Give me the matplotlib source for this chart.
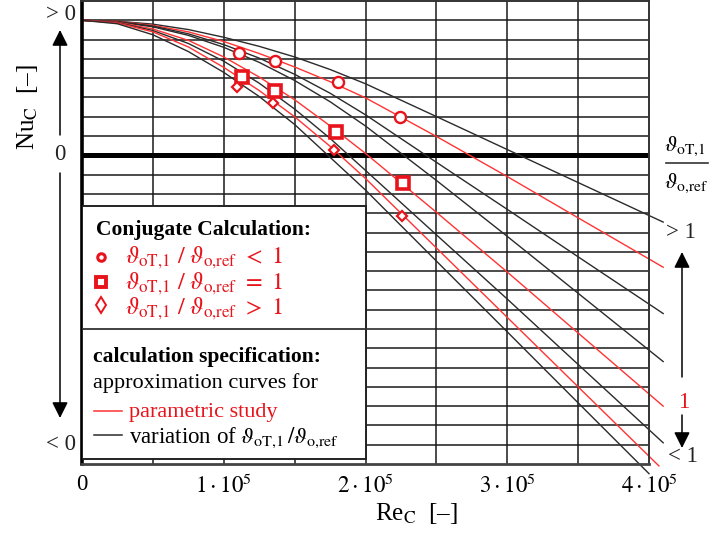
import matplotlib
matplotlib.use("Agg")
import matplotlib.pyplot as plt
import numpy as np
from matplotlib.lines import Line2D
from matplotlib.patches import Rectangle

plt.rcParams["font.family"] = ["Liberation Serif", "DejaVu Serif"]
plt.rcParams["mathtext.fontset"] = "stix"

# Re_C positions where the approximation curves were read off
re_pts = [0, 25000, 50000, 75000, 100000, 125000, 150000, 175000, 200000, 250000, 300000, 350000]
# where each curve stops (top to bottom)
re_end = [410000, 410000, 410000, 410000, 410000, 410000, 407000, 400000]

# Nu_C in schematic units (grid steps), top curve first, last value at the curve end
nu_black_1 = [7, 6.95, 6.80, 6.52, 6.12, 5.65, 5.10, 4.45, 3.71, 2.01, 0.30, -1.41, -3.46]
nu_red_1 = [7, 6.94, 6.74, 6.40, 5.90, 5.28, 4.58, 3.82, 2.98, 0.98, -1.10, -3.24, -5.80]
nu_black_2 = [7, 6.93, 6.70, 6.30, 5.74, 5.04, 4.20, 3.22, 2.10, -0.36, -2.80, -5.26, -8.20]
nu_black_3 = [7, 6.92, 6.66, 6.22, 5.60, 4.82, 3.88, 2.78, 1.52, -1.30, -4.20, -7.15, -10.69]
nu_red_2 = [7, 6.90, 6.55, 5.96, 5.10, 4.06, 2.88, 1.53, 0.10, -2.95, -6.05, -9.21, -13.00]
nu_black_4 = [7, 6.88, 6.47, 5.80, 4.88, 3.74, 2.40, 0.88, -0.78, -4.12, -7.45, -10.84, -14.90]
nu_red_3 = [7, 6.86, 6.40, 5.62, 4.56, 3.36, 2.00, 0.47, -1.20, -4.80, -8.40, -12.00, -16.10]
nu_black_5 = [7, 6.82, 6.25, 5.38, 4.30, 3.05, 1.60, -0.10, -1.80, -5.48, -9.15, -12.83, -16.50]

# conjugate calculation results
re_circle = [110800, 136200, 180600, 224300]
nu_circle = [5.30, 4.89, 3.80, 1.99]
re_square = [112900, 136200, 179200, 226500]
nu_square = [4.06, 3.33, 1.21, -1.43]
re_diamond = [109300, 134700, 177800, 225700]
nu_diamond = [3.54, 2.71, 0.28, -3.15]

xtick_pos = [0, 100000, 200000, 300000, 400000]
xtick_lab = ["0", r"$1\cdot10^5$", r"$2\cdot10^5$", r"$3\cdot10^5$", r"$4\cdot10^5$"]

RED = "#e8141c"
LRED = "#ff3333"
DARK = "#2b2b2b"
W, H = 711, 537

TH_T = r"\vartheta_{\rm oT{,}1}"
TH_R = r"\vartheta_{\rm o{,}ref}"


def fxy(px, py):
    return px / W, 1 - py / H


fig = plt.figure(figsize=(7.11, 5.37), dpi=100)
ax = fig.add_axes([82 / W, 1 - 464 / H, (649 - 82) / W, 463 / H])
ax.set_xlim(0, 400000)
ax.set_ylim(-16, 8)

for v in np.arange(50000, 400000, 50000):
    ax.axvline(v, color="#1a1a1a", lw=1.1, zorder=1)
for h in range(-15, 8):
    ax.axhline(h, color="#1a1a1a", lw=1.1, zorder=1)
ax.axhline(0, color="black", lw=3.6, zorder=1.5)

curves = [nu_black_1, nu_red_1, nu_black_2, nu_black_3, nu_red_2, nu_black_4, nu_red_3, nu_black_5]
colors = [DARK, LRED, DARK, DARK, LRED, DARK, LRED, DARK]
for nu, end, c in zip(curves, re_end, colors):
    ax.plot(re_pts + [end], nu, color=c, lw=1.0, zorder=2, clip_on=False)

ax.plot(re_circle, nu_circle, "o", ms=8.0, mew=1.7, mec=RED, mfc="white", ls="none", zorder=4)
ax.plot(re_square, nu_square, "s", ms=8.4, mew=2.6, mec=RED, mfc="white", ls="none", zorder=4)
ax.plot(re_diamond, nu_diamond, "D", ms=5.6, mew=1.6, mec=RED, mfc="white", ls="none", zorder=4)

# legend box drawn over the lower left part of the grid
ax.add_patch(Rectangle((0, -15.74), 200000, 13.11, fc="white", ec="#222222", lw=1.4, zorder=3))
ax.plot([0, 200000], [-9.0, -9.0], color="#333333", lw=1.3, zorder=3.1)

ax.set_xticks(xtick_pos)
ax.set_xticklabels(xtick_lab, fontsize=16.5)
ax.set_yticks([])
ax.tick_params(axis="x", length=0, pad=7)
ax.spines["left"].set_linewidth(2.6)
ax.spines["left"].set_color("black")
ax.spines["bottom"].set_linewidth(2.0)
ax.spines["bottom"].set_color("#444444")
for s in ("top", "right"):
    ax.spines[s].set_linewidth(1.4)
    ax.spines[s].set_color("#333333")

# legend content
fig.text(*fxy(96, 235), "Conjugate Calculation:", fontsize=15.5, fontweight="bold", va="baseline")
rows = [("o", 5.4, 2.2, 257, 263, "<"), ("s", 7.2, 2.8, 282, 289, "="), ("d", 8.2, 1.4, 305, 314, ">")]
for mk, ms, mew, my, base, sign in rows:
    fig.add_artist(Line2D([101 / W], [1 - my / H], marker=mk, ms=ms, mew=mew, mec=RED, mfc="white",
                          ls="none", transform=fig.transFigure))
    fig.text(*fxy(125, base), "$" + TH_T + r"\ /\ " + TH_R + r"\ " + sign + r"\ 1$",
             fontsize=17.5, color=RED, va="baseline")

fig.text(*fxy(93, 362), "calculation specification:", fontsize=15.5, fontweight="bold", va="baseline")
fig.text(*fxy(93, 388), "approximation curves for", fontsize=16, va="baseline")
fig.add_artist(Line2D([94 / W, 122 / W], [1 - 411 / H] * 2, color=LRED, lw=1.1, transform=fig.transFigure))
fig.text(*fxy(129, 417), "parametric study", fontsize=16, color=RED, va="baseline")
fig.add_artist(Line2D([94 / W, 122 / W], [1 - 435 / H] * 2, color=DARK, lw=1.1, transform=fig.transFigure))
fig.text(*fxy(129, 443), "variation of $" + TH_T + r"\,/" + TH_R + "$", fontsize=16.5, va="baseline")

# left side: sign of Nu_C
fig.text(*fxy(28, 107), r"Nu$_{\rm C}$  [–]", fontsize=18, rotation=90, ha="center", va="center")
fig.text(*fxy(76, 15), "> 0", fontsize=16.5, ha="right", va="center", color="#222222")
fig.text(*fxy(60, 155), "0", fontsize=16.5, ha="center", va="center", color="#222222")
fig.text(*fxy(76, 445), "< 0", fontsize=16.5, ha="right", va="center", color="#222222")

arrow = dict(arrowstyle="-|>,head_length=0.6,head_width=0.3", color="black", lw=1.1,
             mutation_scale=16, shrinkA=0, shrinkB=0)
for start, tip in [((60, 135), (60, 30)), ((60, 173), (60, 418)),
                   ((682, 377), (682, 252)), ((682, 415), (682, 448))]:
    ax.annotate("", xy=fxy(*tip), xytext=fxy(*start), xycoords="figure fraction",
                textcoords="figure fraction", arrowprops=arrow, annotation_clip=False)

# right side: temperature ratio
fig.text(*fxy(664, 146), "$" + TH_T + "$", fontsize=16, va="center")
fig.add_artist(Line2D([666 / W, 708 / W], [1 - 163 / H] * 2, color="#333333", lw=1.2,
                      transform=fig.transFigure))
fig.text(*fxy(664, 183), "$" + TH_R + "$", fontsize=16, va="center")
fig.text(*fxy(666, 233), "> 1", fontsize=16.5, va="center", color="#222222")
fig.text(*fxy(684, 403), "1", fontsize=16.5, ha="center", va="center", color=RED)
fig.text(*fxy(668, 457), "< 1", fontsize=16.5, va="center", color="#222222")

fig.text(*fxy(375, 513), r"Re$_{\rm C}$  [–]", fontsize=18, va="center")

fig.savefig("out.png", dpi=100)
